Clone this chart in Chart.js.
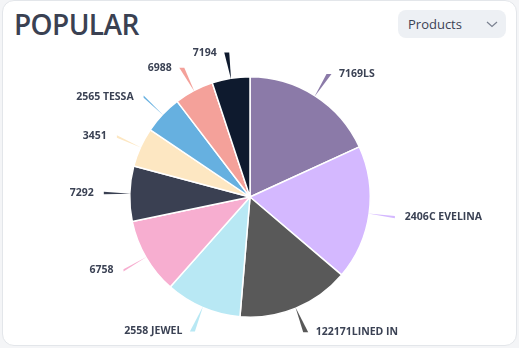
<!DOCTYPE html>
<html>
<head>
<meta charset="utf-8">
<script src="https://cdn.jsdelivr.net/npm/chart.js@4/dist/chart.umd.min.js"></script>
<style>
  html, body { margin: 0; padding: 0; }
  body { width: 519px; height: 348px; background: #f4f5f7; position: relative; overflow: hidden; font-family: "Open Sans", sans-serif; }
  .card { position: absolute; left: 2px; top: 0; width: 513px; height: 344px; background: #fff; border: 1px solid #e3e6ea; border-radius: 12px; }
  .title { position: absolute; left: 14px; top: 10px; font-size: 28px; line-height: 28px; font-weight: 600; letter-spacing: -0.6px; color: #3a4152; }
  .select { position: absolute; left: 398px; top: 10px; width: 108px; height: 28px; background: #edf0f4; border-radius: 8px; }
  .select span { position: absolute; left: 10px; top: 5px; font-size: 13px; line-height: 18px; font-weight: 500; color: #3b4254; }
  .select svg { position: absolute; left: 88px; top: 11px; }
  canvas { position: absolute; left: 0; top: 0; }
</style>
</head>
<body>
<div class="card"></div>
<div class="title">POPULAR</div>
<div class="select"><span>Products</span>
  <svg width="12" height="7" viewBox="0 0 12 7"><path d="M1 1 L6 5.5 L11 1" fill="none" stroke="#7a8190" stroke-width="1.2"/></svg>
</div>
<canvas id="pie" width="519" height="348"></canvas>
<script>
const products = ["7169LS", "2406C EVELINA", "122171LINED IN", "2558 JEWEL", "6758", "7292", "3451", "2565 TESSA", "6988", "7194"];
const sales = [65.4, 65.0, 54.4, 36.8, 36.6, 26.7, 19.1, 18.7, 19.0, 18.3];
const sliceColors = ["#8b7aa8", "#d4b8ff", "#595959", "#b8e8f4", "#f7aed0", "#3a4052", "#fde7c2", "#66b0e0", "#f4a19a", "#0e1a2e"];

// leader wedges + labels outside the pie
const outsideLabels = {
  id: "outsideLabels",
  afterDatasetsDraw(chart) {
    const ctx = chart.ctx;
    const meta = chart.getDatasetMeta(0);
    ctx.save();
    ctx.font = "bold 10.5px 'Open Sans'";
    ctx.textBaseline = "middle";
    meta.data.forEach((arc, i) => {
      const p = arc.getProps(["x", "y", "startAngle", "endAngle", "outerRadius"], true);
      const mid = (p.startAngle + p.endAngle) / 2;
      const cos = Math.cos(mid), sin = Math.sin(mid);
      const ax = p.x + cos * (p.outerRadius - 1), ay = p.y + sin * (p.outerRadius - 1);
      const bx = p.x + cos * (p.outerRadius + 26), by = p.y + sin * (p.outerRadius + 26);
      const horiz = Math.abs(sin) > Math.abs(cos);
      const w = horiz ? 2.5 : 1.2;
      ctx.fillStyle = sliceColors[i];
      ctx.beginPath();
      ctx.moveTo(ax, ay);
      if (horiz) {
        ctx.lineTo(bx - w, by);
        ctx.lineTo(bx + w, by);
      } else {
        ctx.lineTo(bx, by - w);
        ctx.lineTo(bx, by + w);
      }
      ctx.closePath();
      ctx.fill();

      ctx.fillStyle = "#3b4254";
      if (cos >= 0) {
        ctx.textAlign = "left";
        ctx.fillText(products[i], bx + 10, by);
      } else {
        ctx.textAlign = "right";
        ctx.fillText(products[i], bx - 10, by);
      }
    });
    ctx.restore();
  }
};

new Chart(document.getElementById("pie"), {
  type: "pie",
  data: {
    labels: products,
    datasets: [{
      data: sales,
      backgroundColor: sliceColors,
      borderColor: "#ffffff",
      borderWidth: 1.5
    }]
  },
  options: {
    responsive: false,
    animation: false,
    devicePixelRatio: 1,
    layout: { padding: { left: 129, right: 148, top: 76, bottom: 30 } },
    plugins: {
      legend: { display: false },
      tooltip: { enabled: false }
    }
  },
  plugins: [outsideLabels]
});
</script>
</body>
</html>
